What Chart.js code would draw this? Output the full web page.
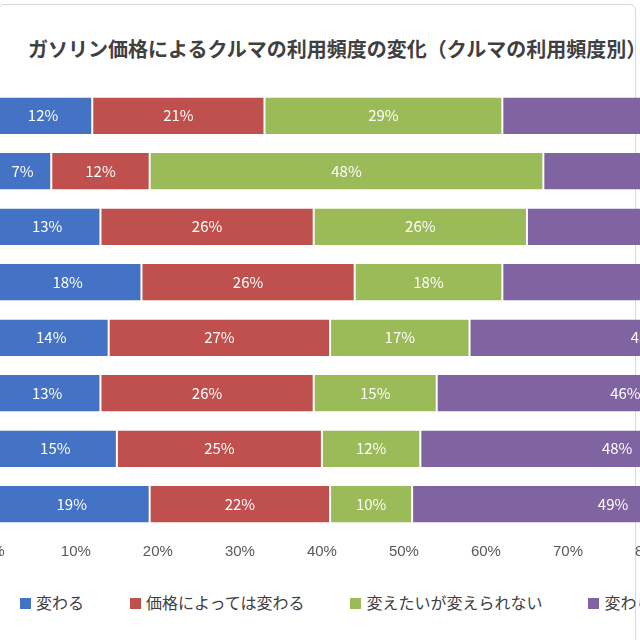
<!DOCTYPE html>
<html>
<head>
<meta charset="utf-8">
<script src="https://cdn.jsdelivr.net/npm/chart.js@4"></script>
<style>
  body { margin: 0; width: 640px; height: 640px; overflow: hidden; background: #fff; position: relative;
         font-family: "Noto Sans CJK JP", sans-serif; }
  #frame { position: absolute; left: -2px; top: 4px; width: 636px; height: 640px; border: 1px solid #d9d9d9; border-radius: 6px; }
  #title { position: absolute; left: 28px; top: 34px; font-size: 20px; font-weight: bold; color: #404040; white-space: nowrap; }
  #wrap { position: absolute; left: -20px; top: 0; width: 880px; height: 572px; }
  #legend { position: absolute; left: 20px; top: 590px; display: flex; gap: 46px; font-size: 16px; color: #404040; white-space: nowrap; }
  #legend span.box { display: inline-block; width: 11px; height: 11px; margin-right: 5px; }
</style>
</head>
<body>
<div id="frame"></div>
<div id="title">ガソリン価格によるクルマの利用頻度の変化（クルマの利用頻度別）</div>
<div id="wrap"><canvas id="c" width="880" height="572"></canvas></div>
<div id="legend"></div>
<script>
// 行（左側の項目名は元画像で切れている）
let categories = ["1", "2", "3", "4", "5", "6", "7", "8"];
let seriesNames = ["変わる", "価格によっては変わる", "変えたいが変えられない", "変わらない"];
let kawaru    = [12, 7, 13, 18, 14, 13, 15, 19];
let kakaku    = [21, 12, 26, 26, 27, 26, 25, 22];
let kaetai    = [29, 48, 26, 18, 17, 15, 12, 10];
let kawaranai = [38, 33, 35, 38, 43, 46, 48, 49];
let colors = ["#4472C4", "#C0504D", "#9BBB59", "#8064A2"];

let allData = [kawaru, kakaku, kaetai, kawaranai];

// 凡例
let legendEl = document.getElementById("legend");
seriesNames.forEach((n, i) => {
  let d = document.createElement("div");
  d.innerHTML = '<span class="box" style="background:' + colors[i] + '"></span>' + n;
  legendEl.appendChild(d);
});

// 値ラベル
const valueLabels = {
  id: "valueLabels",
  afterDatasetsDraw(chart) {
    let ctx = chart.ctx;
    ctx.save();
    ctx.font = "15px 'Noto Sans CJK JP', sans-serif";
    ctx.fillStyle = "#ffffff";
    ctx.textAlign = "center";
    ctx.textBaseline = "middle";
    chart.data.datasets.forEach((ds, i) => {
      chart.getDatasetMeta(i).data.forEach((bar, j) => {
        let x = (bar.x + bar.base) / 2;
        ctx.fillText(ds.data[j] + "%", x, bar.y);
      });
    });
    ctx.restore();
  }
};

new Chart(document.getElementById("c"), {
  type: "bar",
  data: {
    labels: categories,
    datasets: allData.map((d, i) => ({
      label: seriesNames[i],
      data: d,
      backgroundColor: colors[i],
      borderColor: "#ffffff",
      borderWidth: { left: 1, right: 1 },
      borderSkipped: false,
      barPercentage: 0.66,
      categoryPercentage: 1
    }))
  },
  options: {
    indexAxis: "y",
    responsive: false,
    animation: false,
    layout: { padding: { top: 88, right: 46, bottom: 8, left: 0 } },
    plugins: { legend: { display: false }, title: { display: false }, tooltip: { enabled: false } },
    scales: {
      x: {
        stacked: true, min: 0, max: 100,
        grid: { display: false },
        border: { display: false },
        ticks: { stepSize: 10, color: "#595959", font: { size: 15 }, callback: v => v + "%" }
      },
      y: { stacked: true, display: false }
    }
  },
  plugins: [valueLabels]
});
</script>
</body>
</html>
